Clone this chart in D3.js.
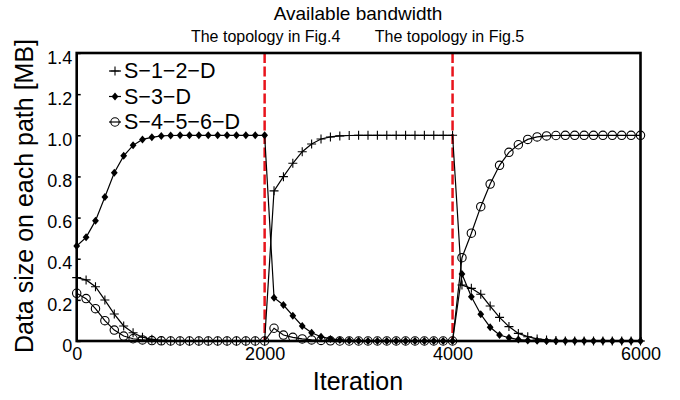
<!DOCTYPE html>
<html>
<head>
<meta charset="utf-8">
<script src="https://cdn.jsdelivr.net/npm/d3@7"></script>
<style>
body { margin: 0; background: #fff; }
svg { font-family: "Liberation Sans", Arial, sans-serif; }
</style>
</head>
<body>
<svg id="chart" width="680" height="400"></svg>
<script>
// iteration steps, one sample every 100 iterations
let iterations = d3.range(0, 6001, 100);

// data size per path [MB]
let s12d = [0.308, 0.297, 0.264, 0.199, 0.131, 0.073, 0.040, 0.018, 0.008, 0.003, 0.001, 0, 0, 0, 0, 0, 0, 0, 0, 0, 0,
            0.73, 0.799, 0.864, 0.92, 0.958, 0.982, 0.992, 0.997, 0.999, 1, 1, 1, 1, 1, 1, 1, 1, 1, 1, 1,
            0.272, 0.256, 0.227, 0.17, 0.115, 0.07, 0.037, 0.021, 0.01, 0.005, 0.002, 0, 0, 0, 0, 0, 0, 0, 0, 0];
let s3d = [0.462, 0.504, 0.585, 0.70, 0.818, 0.90, 0.951, 0.98, 0.99, 0.997, 0.999, 1, 1, 1, 1, 1, 1, 1, 1, 1, 1,
           0.21, 0.175, 0.123, 0.073, 0.04, 0.021, 0.01, 0.005, 0.002, 0.001, 0, 0, 0, 0, 0, 0, 0, 0, 0, 0,
           0.326, 0.215, 0.13, 0.067, 0.029, 0.016, 0.007, 0.003, 0.001, 0, 0, 0, 0, 0, 0, 0, 0, 0, 0, 0];
let s456d = [0.232, 0.206, 0.157, 0.099, 0.053, 0.024, 0.011, 0.005, 0.002, 0.001, 0, 0, 0, 0, 0, 0, 0, 0, 0, 0, 0,
             0.062, 0.029, 0.018, 0.01, 0.005, 0.003, 0.001, 0, 0, 0, 0, 0, 0, 0, 0, 0, 0, 0, 0, 0,
             0.405, 0.524, 0.653, 0.763, 0.854, 0.917, 0.954, 0.98, 0.992, 0.997, 0.999, 1, 1, 1, 1, 1, 1, 1, 1, 1];

let seriesNames = ["S\u22121\u22122\u2212D", "S\u22123\u2212D", "S\u22124\u22125\u22126\u2212D"];
let seriesMarkers = ["plus", "diamond", "circle"];
let xTicks = [0, 2000, 4000, 6000];
let yTicks = [0, 0.2, 0.4, 0.6, 0.8, 1.0, 1.2, 1.4];
let switchPoints = [2000, 4000];
let switchLabels = ["The topology in Fig.4", "The topology in Fig.5"];

let svg = d3.select("#chart");
let plotLeft = 76.7, plotRight = 640.5, plotTop = 53, plotBottom = 341;

let x = d3.scaleLinear().domain([0, 6000]).range([plotLeft, plotRight]);
let y = d3.scaleLinear().domain([0, 1.4]).range([plotBottom, plotTop]);

// axes with inward ticks
let yAxis = svg.append("g")
    .attr("transform", `translate(${plotLeft},0)`)
    .call(d3.axisLeft(y).tickValues(yTicks).tickSize(-4).tickPadding(4.5)
            .tickFormat(d => d === 0 ? "0" : d3.format(".1f")(d)));
yAxis.select(".domain").remove();
yAxis.selectAll("line").attr("stroke", "#000").attr("stroke-width", 1.5);
yAxis.selectAll("text").attr("y", 4.5).attr("font-size", 18).attr("font-family", "Liberation Sans, Arial, sans-serif");

let xAxis = svg.append("g")
    .attr("transform", `translate(0,${plotBottom})`)
    .call(d3.axisBottom(x).tickValues(xTicks).tickSize(-4).tickPadding(6).tickFormat(d3.format("d")));
xAxis.select(".domain").remove();
xAxis.selectAll("line").attr("stroke", "#000").attr("stroke-width", 1.5);
xAxis.selectAll("text").attr("font-size", 18).attr("font-family", "Liberation Sans, Arial, sans-serif");

// topology change markers
svg.selectAll(".switch")
   .data(switchPoints)
   .enter().append("line")
   .attr("class", "switch")
   .attr("x1", d => x(d)).attr("x2", d => x(d))
   .attr("y1", plotTop).attr("y2", plotBottom)
   .attr("stroke", "#e8141c")
   .attr("stroke-width", 2.5)
   .attr("stroke-dasharray", "10,3.5");

function marker(sel, type) {
    if (type == "circle") {
        sel.append("circle").attr("r", 4.2).attr("fill", "none").attr("stroke", "#000").attr("stroke-width", 1.1);
    } else if (type == "diamond") {
        sel.append("path").attr("d", "M0,-4L3.4,0L0,4L-3.4,0Z").attr("fill", "#000");
    } else {
        sel.append("path").attr("d", "M-4.5,0H4.5M0,-4.5V4.5").attr("stroke", "#000").attr("stroke-width", 1.1);
    }
}

let line = d3.line().x(d => x(d[0])).y(d => y(d[1]));
[s12d, s3d, s456d].forEach((vals, i) => {
    let pts = iterations.map((it, j) => [it, vals[j]]);
    svg.append("path")
       .datum(pts)
       .attr("fill", "none")
       .attr("stroke", "#000")
       .attr("stroke-width", 1.2)
       .attr("d", line);
    svg.append("g").selectAll("g")
       .data(pts)
       .enter().append("g")
       .attr("transform", d => `translate(${x(d[0])},${y(d[1])})`)
       .each(function() { marker(d3.select(this), seriesMarkers[i]); });
});

// frame
svg.append("rect")
   .attr("x", plotLeft).attr("y", plotTop)
   .attr("width", plotRight - plotLeft).attr("height", plotBottom - plotTop)
   .attr("fill", "none").attr("stroke", "#000").attr("stroke-width", 2.6);

// legend
let legend = svg.append("g").selectAll("g")
    .data(seriesNames)
    .enter().append("g")
    .attr("transform", (d, i) => `translate(115,${71 + i * 25.5})`);
legend.append("line").attr("x1", -6).attr("x2", 6).attr("stroke", "#000").attr("stroke-width", 1.2);
legend.each(function(d, i) { marker(d3.select(this), seriesMarkers[i]); });
legend.append("text")
      .attr("x", 9).attr("y", 7)
      .attr("font-size", 21.5)
      .text(d => d);

// titles
svg.append("text").attr("x", 358).attr("y", 20).attr("text-anchor", "middle")
   .attr("font-size", 19).text("Available bandwidth");
svg.selectAll(".swlabel")
   .data(switchLabels)
   .enter().append("text")
   .attr("class", "swlabel")
   .attr("x", (d, i) => x(switchPoints[i]) + (i == 0 ? 1 : -3))
   .attr("y", 42)
   .attr("text-anchor", "middle")
   .attr("font-size", 16)
   .text(d => d);

svg.append("text").attr("x", 358).attr("y", 390).attr("text-anchor", "middle")
   .attr("font-size", 25).text("Iteration");
svg.append("text")
   .attr("transform", "translate(33,196) rotate(-90)")
   .attr("text-anchor", "middle")
   .attr("font-size", 25)
   .text("Data size on each path [MB]");
</script>
</body>
</html>
